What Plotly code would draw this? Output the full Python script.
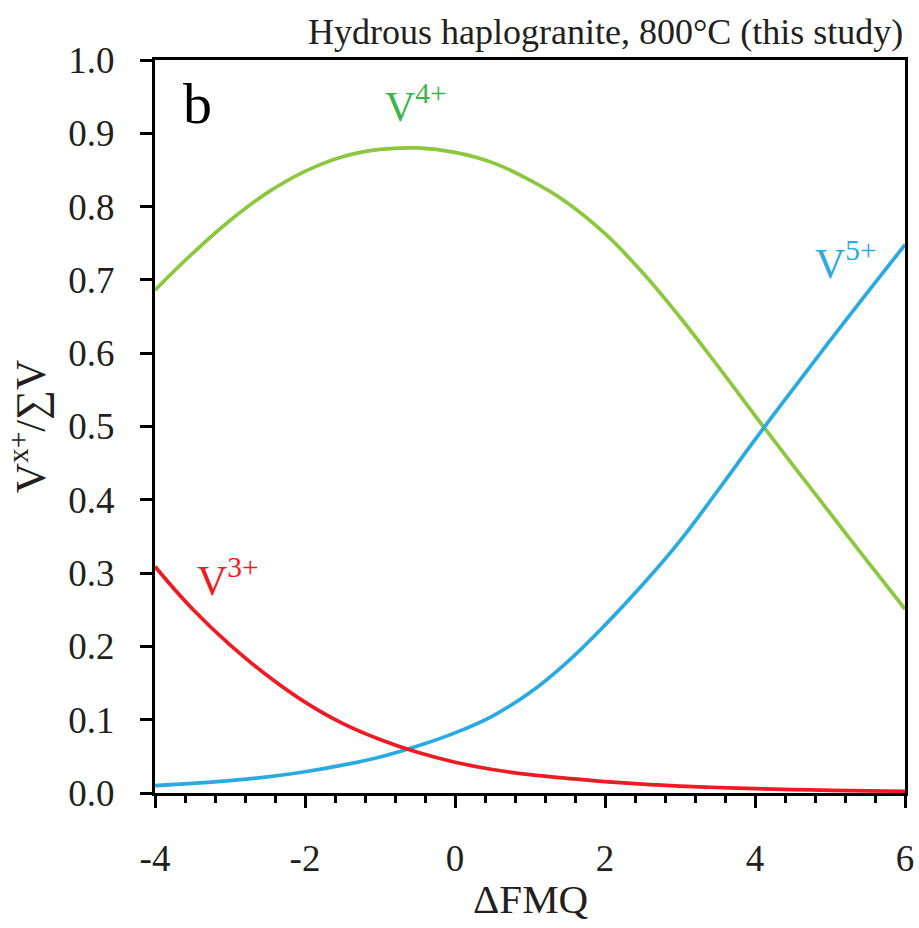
import plotly.graph_objects as go

dfmq = [-4.0, -3.5, -3.0, -2.5, -2.0, -1.5, -1.0, -0.5, 0.0, 0.5, 1.0,
        1.5, 2.0, 2.5, 3.0, 3.5, 4.0, 4.5, 5.0, 5.5, 6.0]
v3 = [0.309, 0.251, 0.202, 0.160, 0.124, 0.095, 0.073, 0.0555, 0.042, 0.032, 0.025,
      0.020, 0.0155, 0.012, 0.0095, 0.0075, 0.006, 0.0047, 0.0037, 0.0029, 0.0023]
v4 = [0.686, 0.736, 0.781, 0.819, 0.848, 0.868, 0.878, 0.880, 0.874, 0.860, 0.836,
      0.805, 0.763, 0.710, 0.649, 0.583, 0.515, 0.448, 0.382, 0.316, 0.251]
v5 = [0.010, 0.013, 0.017, 0.022, 0.029, 0.038, 0.049, 0.064, 0.082, 0.105, 0.137,
      0.179, 0.229, 0.284, 0.344, 0.412, 0.482, 0.550, 0.617, 0.683, 0.748]

x_tickvals = [-4, -2, 0, 2, 4, 6]
x_ticktext = ["-4", "-2", "0", "2", "4", "6"]
y_tickvals = [0.0, 0.1, 0.2, 0.3, 0.4, 0.5, 0.6, 0.7, 0.8, 0.9, 1.0]

FONT = "Liberation Serif"
GREEN_LINE = "#8dc63f"
GREEN_TXT = "#39b54a"
RED = "#ed1c24"
BLUE = "#29abe2"
INK = "#231f20"

fig = go.Figure()
fig.add_trace(go.Scatter(x=dfmq, y=v4, mode="lines", line=dict(color=GREEN_LINE, width=3.7, shape="spline", smoothing=1.2)))
fig.add_trace(go.Scatter(x=dfmq, y=v5, mode="lines", line=dict(color=BLUE, width=3.7, shape="spline", smoothing=1.2)))
fig.add_trace(go.Scatter(x=dfmq, y=v3, mode="lines", line=dict(color=RED, width=3.7, shape="spline", smoothing=1.2)))

fig.update_layout(
    width=919, height=928,
    margin=dict(l=155, r=14, t=60, b=135, autoexpand=False),
    paper_bgcolor="white", plot_bgcolor="white",
    showlegend=False,
    font=dict(family=FONT, color=INK, size=36),
)
fig.update_xaxes(
    range=[-4, 6], tickvals=x_tickvals, ticktext=x_ticktext,
    automargin=False,
    showline=True, linecolor="black", linewidth=3, mirror=True,
    ticks="outside", ticklen=12, tickwidth=3, tickcolor="black",
    minor=dict(dtick=0.4, tick0=-4, ticks="outside", ticklen=7, tickwidth=2.5, tickcolor="black", showgrid=False),
    showgrid=False, zeroline=False,
    ticklabelstandoff=19,
    tickfont=dict(size=37, family=FONT, color=INK),
)
fig.update_yaxes(
    range=[0, 1.0], tickvals=y_tickvals, tickformat=".1f",
    automargin=False,
    showline=True, linecolor="black", linewidth=3, mirror=True,
    ticks="outside", ticklen=12, tickwidth=3, tickcolor="black",
    showgrid=False, zeroline=False,
    ticklabelstandoff=18,
    tickfont=dict(size=37, family=FONT, color=INK),
    title=dict(text="V<sup>x+</sup>/∑V", font=dict(size=42, family=FONT, color=INK), standoff=10),
)

fig.add_annotation(xref="paper", yref="paper", x=0.5, y=-0.145, xanchor="center", yanchor="middle",
                   text="ΔFMQ", showarrow=False, font=dict(size=41, family=FONT, color=INK))
fig.add_annotation(xref="paper", yref="paper", x=1.0, y=1.038, xanchor="right", yanchor="middle",
                   text="Hydrous haplogranite, 800°C (this study)", showarrow=False,
                   font=dict(size=36, family=FONT, color=INK))
fig.add_annotation(xref="paper", yref="paper", x=0.035, y=0.94, xanchor="left", yanchor="middle",
                   text="b", showarrow=False, font=dict(size=58, family=FONT, color="black"))
fig.add_annotation(x=-0.96, y=0.94, xanchor="left", yanchor="middle", text="V<sup>4+</sup>",
                   showarrow=False, font=dict(size=42, family=FONT, color=GREEN_TXT))
fig.add_annotation(x=4.77, y=0.726, xanchor="left", yanchor="middle", text="V<sup>5+</sup>",
                   showarrow=False, font=dict(size=42, family=FONT, color=BLUE))
fig.add_annotation(x=-3.47, y=0.294, xanchor="left", yanchor="middle", text="V<sup>3+</sup>",
                   showarrow=False, font=dict(size=42, family=FONT, color=RED))

# remove the default 8px page margin so the figure fills the window exactly
fig.write_html("out.html", config={"displayModeBar": False},
               post_script="document.body.style.margin='0';document.body.style.overflow='hidden';")
